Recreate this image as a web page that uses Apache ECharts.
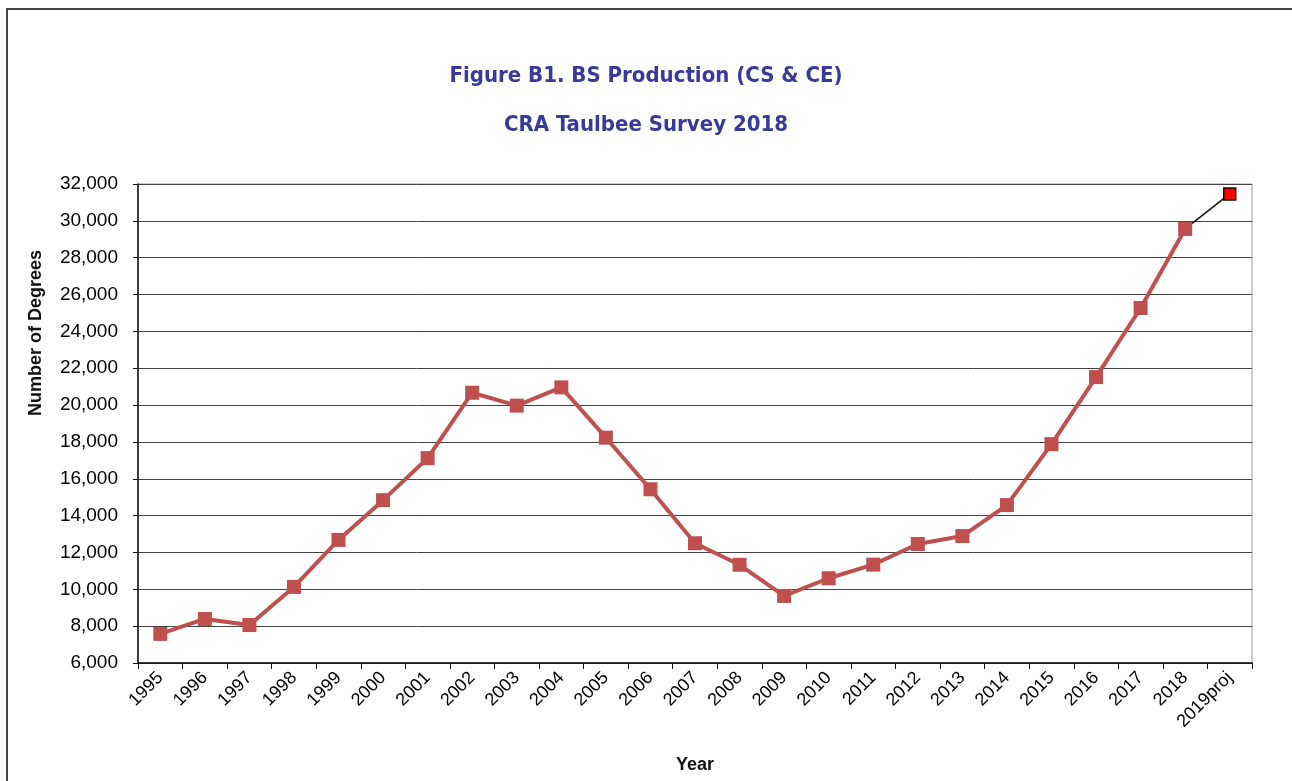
<!DOCTYPE html>
<html>
<head>
<meta charset="utf-8">
<title>Figure B1. BS Production (CS & CE)</title>
<script src="https://cdn.jsdelivr.net/npm/echarts@6/dist/echarts.min.js"></script>
<style>
  html, body { margin: 0; padding: 0; background: #fff; }
  #chart { width: 1292px; height: 781px; }
</style>
</head>
<body>
<div id="chart"></div>
<script>
// Data
var years = ['1995', '1996', '1997', '1998', '1999', '2000', '2001', '2002', '2003', '2004',
  '2005', '2006', '2007', '2008', '2009', '2010', '2011', '2012', '2013', '2014',
  '2015', '2016', '2017', '2018', '2019proj'];
var degrees = [7580, 8390, 8060, 10130, 12680, 14840, 17120, 20670, 19970, 20960,
  18230, 15430, 12500, 11330, 9640, 10600, 11340, 12460, 12890, 14570,
  17880, 21520, 25270, 29560];
var projected = 31460;
var yTicks = { min: 6000, max: 32000, step: 2000 };

var chart = echarts.init(document.getElementById('chart'));
var labelFont = '"Liberation Sans", Arial, Helvetica, sans-serif';
var titleFont = '"Liberation Sans Narrow", "DejaVu Sans Condensed", "Roboto Condensed", sans-serif';
var last = degrees.length - 1;

// actual series stops at 2018; projection joins 2018 to 2019proj
var actualData = years.map(function (y, i) {
  return i <= last ? degrees[i] : '-';
});
var projData = years.map(function (y, i) {
  if (i === last) return { value: degrees[last], symbol: 'none' };
  if (i === last + 1) return projected;
  return '-';
});

var option = {
  animation: false,
  backgroundColor: '#fff',
  title: [{
    text: 'Figure B1. BS Production (CS & CE)',
    left: 'center',
    top: 60,
    textStyle: { fontFamily: titleFont, fontWeight: 'bold', fontSize: 22, color: '#37399b' }
  }, {
    text: 'CRA Taulbee Survey 2018',
    left: 'center',
    top: 109,
    textStyle: { fontFamily: titleFont, fontWeight: 'bold', fontSize: 22, color: '#37399b' }
  }],
  graphic: [{
    type: 'rect',
    shape: { x: 7, y: 9, width: 1320, height: 820 },
    style: { fill: 'none', stroke: '#444', lineWidth: 2 },
    silent: true
  }, {
    type: 'text',
    left: 27,
    top: 250,
    rotation: Math.PI / 2,
    style: {
      text: 'Number of Degrees',
      font: 'bold 18px ' + labelFont,
      fill: '#111'
    }
  }],
  grid: { left: 138, right: 40, top: 184, bottom: 118, show: true, borderColor: '#999', borderWidth: 1 },
  xAxis: {
    type: 'category',
    data: years,
    boundaryGap: true,
    name: 'Year',
    nameLocation: 'middle',
    nameGap: 93,
    nameTextStyle: { fontFamily: labelFont, fontWeight: 'bold', fontSize: 18, color: '#111' },
    axisLine: { lineStyle: { color: '#111', width: 1.5 } },
    axisTick: { show: true, length: 6, lineStyle: { color: '#111' } },
    axisLabel: { rotate: 45, margin: 12, fontFamily: labelFont, fontSize: 18, color: '#000' },
    splitLine: { show: false }
  },
  yAxis: {
    type: 'value',
    min: yTicks.min,
    max: yTicks.max,
    interval: yTicks.step,
    axisLine: { show: true, lineStyle: { color: '#111', width: 1.5 } },
    axisTick: { show: true, length: 5, lineStyle: { color: '#111' } },
    axisLabel: {
      margin: 20,
      fontFamily: labelFont,
      fontSize: 19,
      color: '#000',
      formatter: function (v) { return v.toLocaleString('en-US'); }
    },
    splitLine: { show: true, lineStyle: { color: '#444', width: 1 } }
  },
  series: [{
    type: 'line',
    name: 'BS Production',
    data: actualData,
    symbol: 'rect',
    symbolSize: 14,
    lineStyle: { color: '#c0504d', width: 4 },
    itemStyle: { color: '#c0504d' },
    z: 3
  }, {
    type: 'line',
    name: 'Projected',
    data: projData,
    symbol: 'rect',
    symbolSize: 12,
    lineStyle: { color: '#111', width: 1.5 },
    itemStyle: { color: '#ff0000', borderColor: '#111', borderWidth: 1.5 },
    z: 2
  }]
};

chart.setOption(option);
</script>
</body>
</html>
